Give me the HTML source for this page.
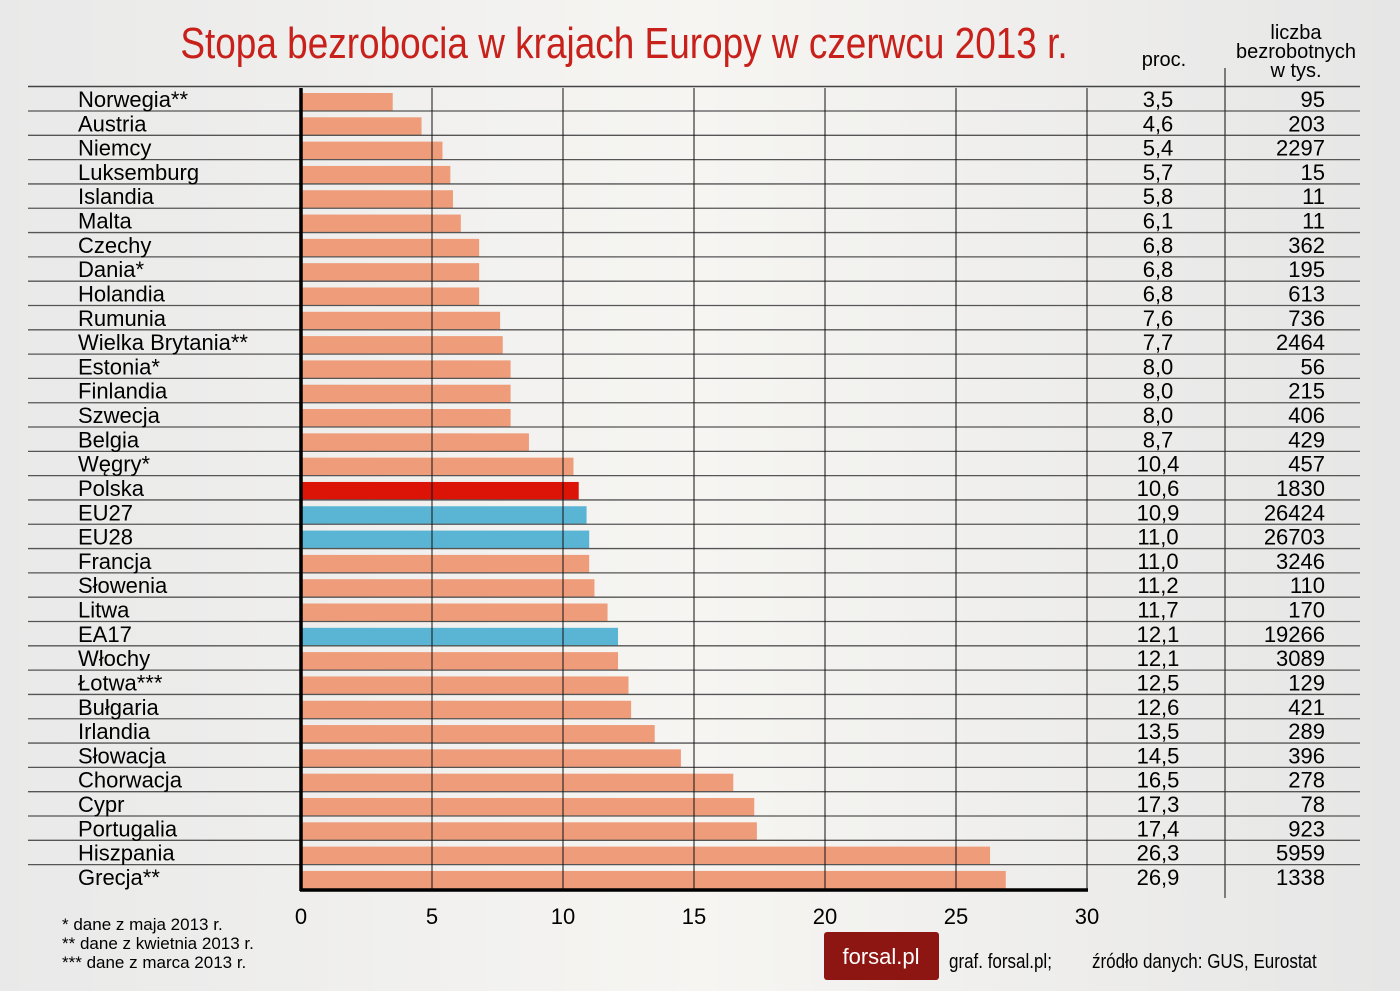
<!DOCTYPE html>
<html><head><meta charset="utf-8"><style>
body{margin:0;width:1400px;height:991px;overflow:hidden;background:#f0efec;font-family:"Liberation Sans",sans-serif}
svg{display:block}
</style></head><body>
<svg width="1400" height="991" id="c">
<defs><linearGradient id="bg" x1="0" x2="1"><stop offset="0" stop-color="#e9e9e9"/><stop offset="0.5" stop-color="#f6f5f2"/><stop offset="1" stop-color="#e6e6e6"/></linearGradient></defs>
<rect width="1400" height="991" fill="url(#bg)"/>
<text x="624" y="58" text-anchor="middle" font-size="44" fill="#c8201a" transform="translate(624,0) scale(0.84,1) translate(-624,0)">Stopa bezrobocia w krajach Europy w czerwcu 2013 r.</text>
<text x="1164" y="66" text-anchor="middle" font-size="20">proc.</text>
<text x="1296" y="39" text-anchor="middle" font-size="20">liczba</text>
<text x="1296" y="58" text-anchor="middle" font-size="20">bezrobotnych</text>
<text x="1296" y="77" text-anchor="middle" font-size="20">w tys.</text>
<g id="g"></g>
<text x="62" y="930" font-size="17">* dane z maja 2013 r.</text>
<text x="62" y="949" font-size="17">** dane z kwietnia 2013 r.</text>
<text x="62" y="968" font-size="17">*** dane z marca 2013 r.</text>
<rect x="824" y="932" width="115" height="48" rx="3" fill="#8e1612"/>
<text x="881" y="964" text-anchor="middle" font-size="22" fill="#fff">forsal.pl</text>
<text x="949" y="968" font-size="20" transform="translate(949,0) scale(0.85,1) translate(-949,0)">graf. forsal.pl;</text>
<text x="1092" y="968" font-size="20" transform="translate(1092,0) scale(0.85,1) translate(-1092,0)">źródło danych: GUS, Eurostat</text>
</svg>
<script>
const countries=["Norwegia**","Austria","Niemcy","Luksemburg","Islandia","Malta","Czechy","Dania*","Holandia","Rumunia","Wielka Brytania**","Estonia*","Finlandia","Szwecja","Belgia","Węgry*","Polska","EU27","EU28","Francja","Słowenia","Litwa","EA17","Włochy","Łotwa***","Bułgaria","Irlandia","Słowacja","Chorwacja","Cypr","Portugalia","Hiszpania","Grecja**"];
const rates=[3.5,4.6,5.4,5.7,5.8,6.1,6.8,6.8,6.8,7.6,7.7,8.0,8.0,8.0,8.7,10.4,10.6,10.9,11.0,11.0,11.2,11.7,12.1,12.1,12.5,12.6,13.5,14.5,16.5,17.3,17.4,26.3,26.9];
const counts=[95,203,2297,15,11,11,362,195,613,736,2464,56,215,406,429,457,1830,26424,26703,3246,110,170,19266,3089,129,421,289,396,278,78,923,5959,1338];
const ticks=[0,5,10,15,20,25,30];
const NS="http://www.w3.org/2000/svg",g=document.getElementById('g');
const x=v=>301+v*(1087-301)/30;
const lineY=i=>111+i*24.31;
function el(t,a,txt){const e=document.createElementNS(NS,t);for(const k in a)e.setAttribute(k,a[k]);if(txt!==undefined)e.textContent=txt;g.appendChild(e);return e;}
let e=el('line',{x1:28,x2:1360,y1:86.5,y2:86.5,stroke:'#444','stroke-width':1.5});


countries.forEach((c,i)=>{
 const ly=lineY(i);
 const col=c==="Polska"?"#dc1408":(c.startsWith("EU")||c==="EA17")?"#5ab4d4":"#ee9c7a";
 let b=el('rect',{x:x(0),y:ly-18,width:x(rates[i])-x(0),height:18,fill:col});
 
 
 if(i<countries.length-1){let l=el('line',{x1:28,x2:1360,y1:ly,y2:ly,stroke:'#555','stroke-width':1.3});
 
 }
 const cy=ly-4;
 let t=el('text',{x:78,y:cy,'font-size':22},c);
 
 
 let r=el('text',{x:1158,y:cy,'font-size':22,'text-anchor':'middle'},rates[i].toFixed(1).replace('.',','));
 
 
 let n=el('text',{x:1325,y:cy,'font-size':22,'text-anchor':'end'},counts[i]);
 
 
});
ticks.forEach(v=>{
 if(v>0){let l=el('line',{x1:x(v),x2:x(v),y1:88,y2:890,stroke:'#111','stroke-width':1});
 
 }
 let t=el('text',{x:x(v),y:924,'font-size':22,'text-anchor':'middle'},v);
 
 
});
e=el('line',{x1:301,x2:301,y1:88,y2:891,stroke:'#000','stroke-width':3.5});


e=el('line',{x1:300,x2:1088,y1:890,y2:890,stroke:'#000','stroke-width':3.5});


e=el('line',{x1:1225,x2:1225,y1:68,y2:898,stroke:'#333','stroke-width':1.2});


</script>
</body></html>
